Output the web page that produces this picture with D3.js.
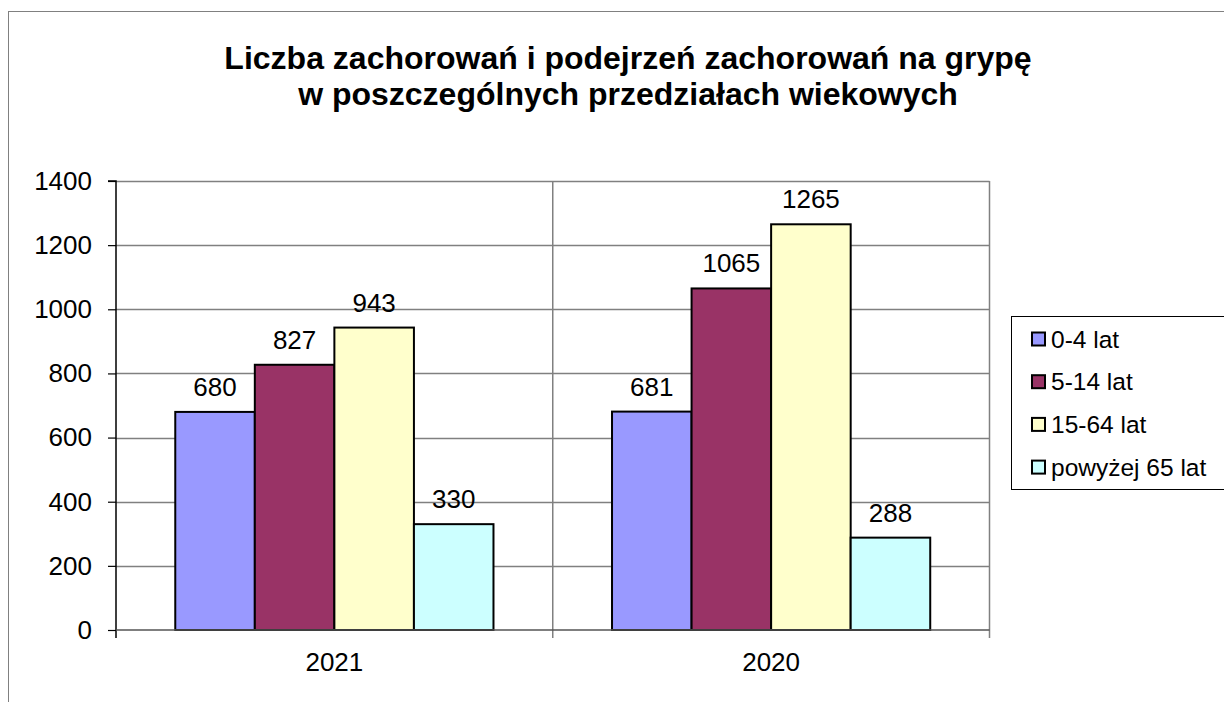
<!DOCTYPE html>
<html><head><meta charset="utf-8">
<script src="https://cdn.jsdelivr.net/npm/d3@7"></script>
<style>body{margin:0;background:#fff}svg{display:block;font-family:Arial,"Liberation Sans",sans-serif}</style>
</head><body>
<svg id="c" width="1224" height="702"></svg>
<script>
const categories = ["2021", "2020"];
const seriesNames = ["0-4 lat", "5-14 lat", "15-64 lat", "powyżej 65 lat"];
const values0to4 = [680, 681];
const values5to14 = [827, 1065];
const values15to64 = [943, 1265];
const values65plus = [330, 288];
const yTicks = [0, 200, 400, 600, 800, 1000, 1200, 1400];
const colors = ["#9999FF", "#993366", "#FFFFCC", "#CCFFFF"];
const titleLines = ["Liczba zachorowań i podejrzeń zachorowań na grypę", "w poszczególnych przedziałach wiekowych"];

const FONT = "Arial, 'Liberation Sans', sans-serif";
const seriesValues = [values0to4, values5to14, values15to64, values65plus];
const svg = d3.select("#c");
const L = 116, R = 989.5, T = 181, B = 630;

// outer frame
svg.append("rect").attr("x", 8.5).attr("y", 11.5).attr("width", 1300).attr("height", 800)
  .attr("fill", "none").attr("stroke", "#808080").attr("stroke-width", 1);

const y = d3.scaleLinear().domain([0, 1400]).range([B, T]);
const x0 = d3.scaleBand().domain(categories).range([L, R]).paddingInner(0).paddingOuter(0);
const x1 = d3.scaleBand().domain(seriesNames).range([0, x0.bandwidth()]).paddingOuter(0.745).paddingInner(0);

// gridlines
svg.append("g").selectAll("line").data(yTicks.filter(d => d > 0)).join("line")
  .attr("x1", L).attr("x2", R).attr("y1", d => Math.round(y(d)) + 0.5).attr("y2", d => Math.round(y(d)) + 0.5)
  .attr("stroke", "#808080").attr("stroke-width", 1.5);
// vertical category gridlines
svg.append("g").selectAll("line").data(categories.slice(1).concat(["__end"])).join("line")
  .attr("x1", (d, i) => i < categories.length - 1 ? x0(d) : R)
  .attr("x2", (d, i) => i < categories.length - 1 ? x0(d) : R)
  .attr("y1", T).attr("y2", B + 8)
  .attr("stroke", "#808080").attr("stroke-width", 1.5);

// bars
const groups = svg.append("g").selectAll("g").data(categories).join("g")
  .attr("transform", d => `translate(${x0(d)},0)`);
groups.selectAll("rect").data((c, ci) => seriesNames.map((s, si) => ({s, si, v: seriesValues[si][ci]}))).join("rect")
  .attr("x", d => x1(d.s)).attr("width", x1.bandwidth())
  .attr("y", d => y(d.v)).attr("height", d => B - y(d.v))
  .attr("fill", d => colors[d.si]).attr("stroke", "#000").attr("stroke-width", 2);
groups.selectAll("text").data((c, ci) => seriesNames.map((s, si) => ({s, si, v: seriesValues[si][ci]}))).join("text")
  .attr("x", d => x1(d.s) + x1.bandwidth() / 2).attr("y", d => y(d.v) - 16)
  .attr("text-anchor", "middle").attr("font-size", 26).attr("font-family", FONT).attr("fill", "#000").text(d => d.v);

// y axis
const yAxis = d3.axisLeft(y).tickValues(yTicks).tickFormat(d3.format("d")).tickSize(8).tickPadding(16);
const ya = svg.append("g").attr("transform", `translate(${L},0)`).call(yAxis)
  .attr("font-size", 26).attr("font-family", FONT);
ya.select(".domain").attr("stroke", "#000").attr("stroke-width", 1.5).attr("d", `M-8,${T}H0V${B + 8}`);
ya.selectAll(".tick line").attr("stroke", "#000").attr("stroke-width", 1.2);
ya.selectAll(".tick text").attr("fill", "#000");

// x axis
const xa = svg.append("g").attr("transform", `translate(0,${B})`).call(d3.axisBottom(x0).tickSize(0).tickPadding(22.5))
  .attr("font-size", 26).attr("font-family", FONT);
xa.select(".domain").attr("stroke", "#555").attr("stroke-width", 1.5).attr("d", `M${L},0H${R}`);
xa.selectAll(".tick text").attr("fill", "#000");

// title
svg.append("text").attr("x", 628).attr("y", 69).attr("text-anchor", "middle").attr("font-family", FONT)
  .attr("font-size", 32).attr("font-weight", "bold").selectAll("tspan").data(titleLines).join("tspan")
  .attr("x", 628).attr("dy", (d, i) => i === 0 ? 0 : 36).text(d => d);

// legend
svg.append("rect").attr("x", 1011.5).attr("y", 316.5).attr("width", 230).attr("height", 173)
  .attr("fill", "#fff").attr("stroke", "#000").attr("stroke-width", 1);
const lg = svg.append("g").selectAll("g").data(seriesNames).join("g")
  .attr("transform", (d, i) => `translate(1032,${339 + i * 42.7})`);
lg.append("rect").attr("x", 0).attr("y", -6.5).attr("width", 13).attr("height", 13)
  .attr("fill", (d, i) => colors[i]).attr("stroke", "#000").attr("stroke-width", 2);
lg.append("text").attr("x", 19).attr("y", 8.5).attr("font-size", 24.5).attr("font-family", FONT).attr("fill", "#000").text(d => d);
</script>
</body></html>
